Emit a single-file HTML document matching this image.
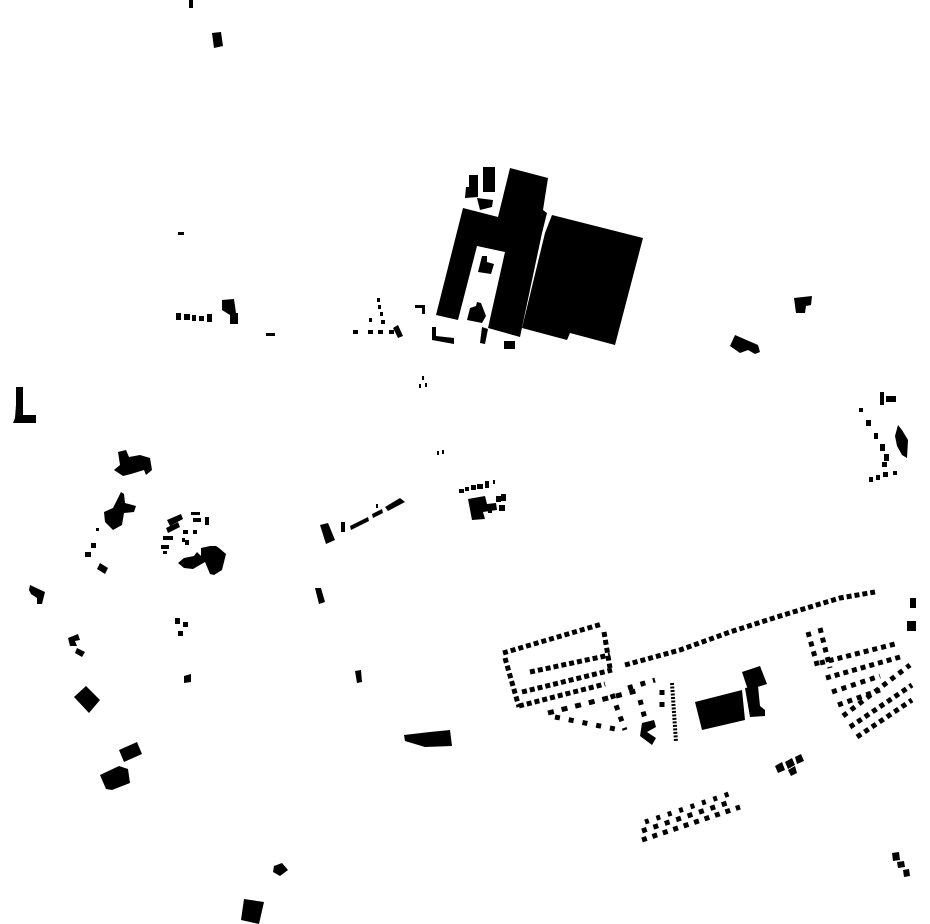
<!DOCTYPE html>
<html><head><style>html,body{margin:0;padding:0;background:#fff}svg{display:block}</style></head>
<body>
<svg width="930" height="924" viewBox="0 0 930 924" xmlns="http://www.w3.org/2000/svg">
<g fill="#000" stroke="none">
<rect x="189" y="0" width="4" height="8"/>
<polygon points="212,33 221,32 223,46 214,48"/>
<rect x="178" y="232" width="6" height="3"/>
<polygon points="463,208 498,217 510,168 548,178 543,210 547,213 542,233 520,337 488,328 505,252 477,246 458,320 436,315"/>
<polygon points="552,215 643,238 615,345 570,333 567,340 522,328 545,233"/>
<rect x="483" y="167" width="12" height="25"/>
<polygon points="469,175 478,175 478,197 465,198 466,187 469,187"/>
<polygon points="477,198 493,200 492,207 480,210"/>
<polygon points="482,256 487,256 487,262 494,264 491,274 478,272"/>
<polygon points="470,308 476,306 477,302 481,303 486,316 482,323 467,320"/>
<polygon points="415,305 425,305 425,314 422,314 422,308 415,308"/>
<polygon points="432,327 436,327 436,336 454,338 454,344 432,340"/>
<polygon points="482,327 488,329 485,344 480,343"/>
<rect x="504" y="341" width="11" height="8"/>
<rect x="176" y="313" width="5" height="7"/><rect x="184" y="314" width="6" height="6"/><rect x="192" y="315" width="4" height="6"/>
<rect x="199" y="316" width="5" height="5"/><rect x="207" y="314" width="5" height="8"/>
<polygon points="222,300 234,299 236,313 238,313 238,324 230,324 230,315 222,310"/>
<rect x="266" y="333" width="9" height="3"/>
<rect x="377" y="298" width="3" height="4"/><rect x="378" y="305" width="3" height="4"/><rect x="369" y="318" width="3" height="4"/>
<rect x="380" y="312" width="3" height="4"/><rect x="381" y="320" width="4" height="4"/><rect x="353" y="330" width="5" height="4"/>
<rect x="368" y="330" width="5" height="4"/><rect x="378" y="330" width="5" height="4"/><rect x="389" y="330" width="5" height="4"/>
<polygon points="393,328 398,325 403,336 398,338"/>
<rect x="422" y="376" width="2" height="4"/><rect x="419" y="384" width="2" height="4"/><rect x="425" y="383" width="2" height="4"/>
<rect x="437" y="451" width="2" height="4"/><rect x="442" y="450" width="2" height="4"/>
<polygon points="794,298 812,296 811,305 806,306 805,313 796,313"/>
<polygon points="735,335 758,345 760,352 755,354 748,350 740,353 730,346"/>
<rect x="880" y="392" width="4" height="13"/><rect x="886" y="396" width="10" height="6"/>
<rect x="859" y="408" width="4" height="4"/><rect x="866" y="420" width="5" height="6"/><rect x="874" y="433" width="4" height="6"/>
<polygon points="898,425 902,430 908,440 907,458 902,455 897,446 895,436"/>
<rect x="880" y="444" width="5" height="7"/><rect x="884" y="454" width="5" height="7"/><rect x="882" y="462" width="5" height="5"/>
<rect x="869" y="477" width="4" height="5"/><rect x="876" y="475" width="4" height="5"/><rect x="883" y="472" width="5" height="5"/><rect x="893" y="471" width="4" height="4"/>
<polygon points="16,387 23,387 23,415 36,415 36,423 13,423 15,418 16,405"/>
<polygon points="118,452 126,450 129,457 140,455 150,458 152,470 146,475 144,470 131,474 123,476 114,470 120,465"/>
<polygon points="117,500 121,492 124,494 125,503 136,506 134,512 124,513 122,525 113,530 105,522 104,512 113,508"/>
<rect x="96" y="528" width="3" height="3"/>
<rect x="91" y="543" width="5" height="5"/><rect x="85" y="552" width="6" height="5"/>
<polygon points="100,563 108,568 105,574 97,569"/>
<polygon points="30,585 45,592 42,604 37,604 37,598 31,594 29,590"/>
<polygon points="167,520 181,514 183,519 170,526"/>
<polygon points="166,528 178,522 180,527 168,533"/>
<rect x="163" y="536" width="10" height="4"/><rect x="161" y="545" width="8" height="4"/><rect x="163" y="551" width="4" height="3"/>
<rect x="191" y="512" width="9" height="3"/><rect x="193" y="518" width="8" height="4"/><rect x="205" y="517" width="4" height="8"/>
<rect x="183" y="530" width="5" height="4"/><rect x="193" y="530" width="4" height="4"/><rect x="182" y="538" width="3" height="4"/><rect x="185" y="540" width="4" height="5"/>
<polygon points="201,548 210,546 216,546 219,548 226,554 222,570 214,575 210,574 205,562 193,569 184,568 178,563 184,558 194,556 197,552 201,556"/>
<polygon points="320,525 328,523 335,540 326,544"/>
<rect x="341" y="522" width="4" height="10"/>
<polygon points="350,526 368,517 369,521 351,530"/>
<polygon points="372,514 382,509 383,513 373,518"/>
<polygon points="385,507 400,498 405,502 388,511"/>
<rect x="376" y="504" width="2" height="4"/>
<rect x="459" y="489" width="5" height="4"/><rect x="465" y="487" width="4" height="4"/><rect x="471" y="485" width="5" height="5"/><rect x="477" y="484" width="6" height="5"/><rect x="485" y="481" width="4" height="7"/><rect x="493" y="480" width="2" height="4"/>
<polygon points="468,499 485,496 487,504 496,503 497,510 483,512 485,519 472,520"/>
<rect x="488" y="507" width="4" height="6"/><rect x="496" y="496" width="5" height="6"/><rect x="501" y="494" width="5" height="7"/><rect x="499" y="505" width="6" height="6"/>
<polygon points="315,588 321,588 325,602 319,604"/>
<rect x="175" y="618" width="5" height="6"/><rect x="183" y="622" width="5" height="5"/><rect x="178" y="631" width="5" height="5"/>
<polygon points="68,638 78,634 80,640 75,641 77,646 70,646"/>
<polygon points="77,648 85,652 82,657 75,653"/>
<polygon points="184,676 191,674 191,682 184,683"/>
<polygon points="74,697 86,686 100,700 89,713"/>
<polygon points="355,671 361,670 362,682 357,683"/>
<polygon points="119,750 137,742 142,754 124,762"/>
<polygon points="100,775 119,766 128,769 130,783 112,790 106,789"/>
<polygon points="404,735 430,732 450,730 452,746 425,747 405,741"/>
<polygon points="274,866 282,863 288,870 280,876 273,872"/>
<polygon points="244,899 264,902 259,924 241,920"/>
<polygon points="695,702 742,690 745,720 702,730"/>
<polygon points="742,672 760,666 767,684 748,690"/>
<polygon points="745,688 758,686 760,706 765,710 765,716 750,717"/>
<rect x="910" y="598" width="6" height="10"/><rect x="907" y="621" width="9" height="10"/>
<polygon points="642,723 654,720 656,727 647,732 656,738 652,745 640,736"/>
<polygon points="775,766 782,762 785,770 778,773"/><polygon points="785,762 792,758 795,765 788,769"/><polygon points="795,757 801,754 804,761 797,764"/>
<polygon points="788,770 795,766 797,773 791,776"/>
<polygon points="892,853 899,852 900,860 893,861"/><polygon points="897,862 904,861 905,867 898,868"/><polygon points="903,870 909,869 910,876 904,877"/>
</g>
<g fill="none" stroke="#000" stroke-width="5" stroke-dasharray="5,3">
<polyline points="625,665 680,650 730,632 780,616 840,598 875,592"/>
<polyline points="503,653 602,624"/>
<polyline points="505,658 519,707"/>
<polyline points="519,706 605,684"/>
<polyline points="530,672 610,655"/>
<polyline points="522,692 612,670"/>
<polyline points="604,632 610,668"/>
<polyline points="548,713 640,690" stroke-dasharray="6,8"/>
<polyline points="555,717 620,730" stroke-dasharray="5,9"/>
<polyline points="612,694 625,730" stroke-dasharray="5,7"/>
<polyline points="628,688 655,680" stroke-dasharray="5,8"/>
<polyline points="640,700 648,730" stroke-dasharray="5,7"/>
<polyline points="662,690 662,710" stroke-dasharray="5,7"/>
<polyline points="672,683 676,742" stroke-width="4" stroke-dasharray="2,1.5"/>
<polyline points="808,632 818,668" stroke-dasharray="5,5"/>
<polyline points="820,628 830,668" stroke-dasharray="5,5"/>
<polyline points="820,663 895,644" stroke-dasharray="5,4"/>
<polyline points="826,678 900,657" stroke-dasharray="5,4"/>
<polyline points="832,692 880,676" stroke-dasharray="5,5"/>
<polyline points="838,705 880,690" stroke-dasharray="5,5"/>
<polyline points="843,716 910,665" stroke-dasharray="5,5"/>
<polyline points="850,727 912,685" stroke-dasharray="5,4"/>
<polyline points="857,737 912,700" stroke-dasharray="5,4"/>
<polyline points="642,840 740,807" stroke-dasharray="5,6"/>
<polyline points="642,831 730,802" stroke-dasharray="5,7"/>
<polyline points="645,822 735,792" stroke-dasharray="4,8"/>
</g>
</svg>
</body></html>
